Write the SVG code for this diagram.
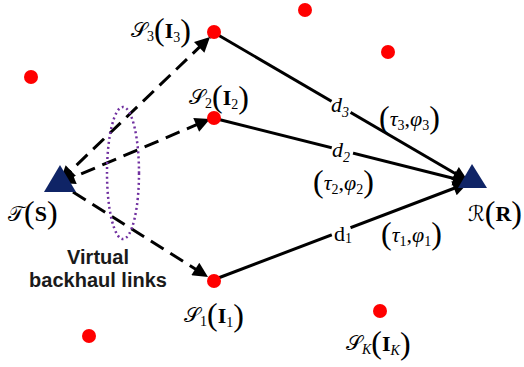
<svg xmlns="http://www.w3.org/2000/svg" width="524" height="367" viewBox="0 0 524 367">
<style>
.dot{fill:#ff0000}
.tri{fill:#0f2466}
.dash{stroke:#000;stroke-width:3;stroke-dasharray:15 8;fill:none}
.solid{stroke:#000;stroke-width:3;fill:none}
.m{font-family:"Liberation Serif","DejaVu Serif",serif;font-size:22px;fill:#000}
.sc{font-family:"DejaVu Serif","DejaVu Sans","Liberation Serif",serif;font-style:normal;font-size:21px}
.it{font-style:italic}
.b{font-weight:bold}
.sub{font-size:14px}
.par{font-size:32px;font-weight:normal}
.lbl{font-family:"Liberation Sans",Arial,sans-serif;font-weight:bold;font-size:20px;fill:#1a1a1a}
</style>
<defs>
<marker id="ah" viewBox="0 0 10 10" refX="10" refY="5" markerWidth="6" markerHeight="5" orient="auto-start-reverse" markerUnits="strokeWidth">
<path d="M0,0 L10,5 L0,10 z" fill="#000"/>
</marker>
</defs>
<g id="others">
<circle class="dot" cx="31" cy="77" r="7"/>
<circle class="dot" cx="305" cy="10" r="7"/>
<circle class="dot" cx="388" cy="52" r="7"/>
<circle class="dot" cx="89" cy="336" r="7"/>
</g>
<g id="connectors">
<line class="dash" x1="60" y1="181" x2="210" y2="37" marker-start="url(#ah)" marker-end="url(#ah)"/>
<line class="dash" x1="60" y1="183" x2="210" y2="119" marker-start="url(#ah)" marker-end="url(#ah)"/>
<line class="dash" x1="73" y1="192" x2="208" y2="277" marker-end="url(#ah)"/>
<line class="solid" x1="213" y1="32" x2="468" y2="181" marker-end="url(#ah)"/>
<line class="solid" x1="213" y1="118" x2="468" y2="182" marker-end="url(#ah)"/>
<line class="solid" x1="213" y1="280" x2="468" y2="183" marker-end="url(#ah)"/>
<ellipse cx="123" cy="173" rx="16" ry="66" fill="none" stroke="#7030a0" stroke-width="2.5" stroke-dasharray="2 3"/>
<rect x="330" y="97" width="22" height="20" fill="#fff" transform="rotate(30 341 107)"/>
<text class="m it" x="331" y="112">d<tspan class="sub" dy="5">3</tspan></text>
<rect x="331" y="142" width="22" height="20" fill="#fff" transform="rotate(14 342 152)"/>
<text class="m it" x="332" y="157">d<tspan class="sub" dy="5">2</tspan></text>
<rect x="333" y="227" width="20" height="18" fill="#fff" transform="rotate(-21 343 236)"/>
<text class="m" x="334" y="241">d<tspan class="sub" dy="2">1</tspan></text>
</g>
<g id="S3">
<circle class="dot" cx="214" cy="32" r="7"/>
<text class="m" x="131" y="37"><tspan class="sc">𝒮</tspan><tspan class="sub" dy="4">3</tspan><tspan class="par" dy="-1">(</tspan><tspan class="b" dy="-2">I</tspan><tspan class="sub" dy="4">3</tspan><tspan class="par" dy="-1">)</tspan></text>
</g>
<g id="S2">
<circle class="dot" cx="214" cy="118" r="7"/>
<text class="m" x="189" y="104"><tspan class="sc">𝒮</tspan><tspan class="sub" dy="4">2</tspan><tspan class="par" dy="-1">(</tspan><tspan class="b" dy="-2">I</tspan><tspan class="sub" dy="4">2</tspan><tspan class="par" dy="-1">)</tspan></text>
</g>
<g id="S1">
<circle class="dot" cx="214" cy="281" r="7"/>
<text class="m" x="184" y="322"><tspan class="sc">𝒮</tspan><tspan class="sub" dy="4">1</tspan><tspan class="par" dy="-1">(</tspan><tspan class="b" dy="-2">I</tspan><tspan class="sub" dy="4">1</tspan><tspan class="par" dy="-1">)</tspan></text>
</g>
<g id="SK">
<circle class="dot" cx="380" cy="311" r="7"/>
<text class="m" x="346" y="350"><tspan class="sc">𝒮</tspan><tspan class="sub it" dy="4">K</tspan><tspan class="par" dy="-1">(</tspan><tspan class="b" dy="-2">I</tspan><tspan class="sub it" dy="4">K</tspan><tspan class="par" dy="-1">)</tspan></text>
</g>
<g id="T">
<polygon class="tri" points="60,165 44,192 76,192"/>
<text class="m" x="8" y="221"><tspan class="sc">𝒯</tspan><tspan class="par" dy="2">(</tspan><tspan class="b" dy="-2">S</tspan><tspan class="par" dy="2">)</tspan></text>
</g>
<g id="R">
<polygon class="tri" points="472,164 458,188 487,188"/>
<text class="m" x="468" y="221"><tspan class="sc">ℛ</tspan><tspan class="par" dy="2">(</tspan><tspan class="b" dy="-2">R</tspan><tspan class="par" dy="2">)</tspan></text>
</g>
<g id="tau">
<text class="m" x="379" y="126"><tspan class="par" dy="2">(</tspan><tspan class="it" dy="-2">τ</tspan><tspan class="sub" dy="4">3</tspan><tspan dy="-4">,</tspan><tspan class="it">φ</tspan><tspan class="sub" dy="4">3</tspan><tspan class="par" dy="-2">)</tspan></text>
<text class="m" x="313" y="190"><tspan class="par" dy="2">(</tspan><tspan class="it" dy="-2">τ</tspan><tspan class="sub" dy="4">2</tspan><tspan dy="-4">,</tspan><tspan class="it">φ</tspan><tspan class="sub" dy="4">2</tspan><tspan class="par" dy="-2">)</tspan></text>
<text class="m" x="381" y="242"><tspan class="par" dy="2">(</tspan><tspan class="it" dy="-2">τ</tspan><tspan class="sub" dy="4">1</tspan><tspan dy="-4">,</tspan><tspan class="it">φ</tspan><tspan class="sub" dy="4">1</tspan><tspan class="par" dy="-2">)</tspan></text>
</g>
<g id="label">
<text class="lbl" x="98" y="264" text-anchor="middle">Virtual</text>
<text class="lbl" x="98" y="287" text-anchor="middle">backhaul links</text>
</g>
</svg>
